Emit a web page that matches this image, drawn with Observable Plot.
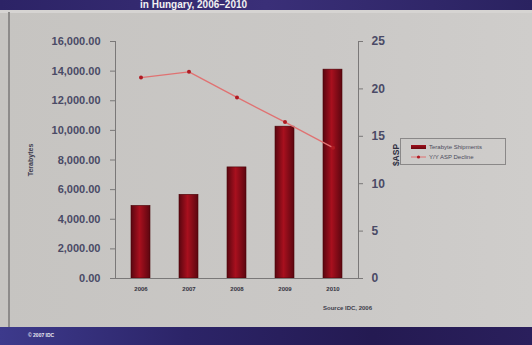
<!DOCTYPE html>
<html>
<head>
<meta charset="utf-8">
<script src="https://cdn.jsdelivr.net/npm/d3@7"></script>
<script src="https://cdn.jsdelivr.net/npm/@observablehq/plot@0.6"></script>
<style>
  html, body { margin: 0; padding: 0; background: #c8c6c3; }
  #slide { position: relative; width: 532px; height: 345px; overflow: hidden;
    background: linear-gradient(90deg, #c6c4c1 0%, #cac8c6 60%, #cfcdcb 100%);
    font-family: "Liberation Sans", Arial, sans-serif; }
  #banner { position: absolute; left: 0; top: 0; width: 532px; height: 10px;
    background: linear-gradient(90deg, #2c2366, #3a2f78 50%, #2a2260); overflow: hidden; }
  #banner span { position: absolute; left: 140px; top: 0px; line-height: 10px; color: #f2f2f2; font-weight: bold; font-size: 10px; white-space: nowrap; }
  #topstrip { position: absolute; left: 0; top: 10px; width: 532px; height: 3px; background: #d6d4d2; }
  #leftline { position: absolute; left: 8px; top: 12px; width: 2px; height: 316px; background: #8d8b8a; }
  #footer { position: absolute; left: 0; top: 327px; width: 532px; height: 18px;
    background: linear-gradient(90deg, #3d3a8c 0%, #2c2468 35%, #241a52 70%, #2a1f5c 100%); }
  #footer span { position: absolute; left: 28px; top: 5px; color: #e8e8f0; font-size: 5px; font-weight: bold; }
  #plot { position: absolute; left: 0; top: 0; }
  .lbl { position: absolute; color: #3e3e50; font-weight: bold; white-space: nowrap; }
  #ylab { left: 30px; top: 160px; font-size: 7px; transform: translate(-50%, -50%) rotate(-90deg); }
  #y2lab { left: 396px; top: 155px; font-size: 8.5px; transform: translate(-50%, -50%) rotate(-90deg); color: #2e2e40; }
  #legend { position: absolute; left: 400px; top: 138px; width: 106px; height: 27px; border: 1px solid #8a8888; box-sizing: border-box; font-size: 6px; color: #4a4a5a; }
  .row { position: absolute; left: 10px; display: flex; align-items: center; }
  .sw { width: 15px; height: 4px; background: linear-gradient(180deg, #a0101c, #6a0810); margin-right: 3px; }
  #source { left: 323px; top: 305px; font-size: 6px; color: #3c3c4a; }
</style>
</head>
<body>
<div id="slide">
  <div id="banner"><span>in Hungary, 2006–2010</span></div>
  <div id="topstrip"></div>
  <div id="leftline"></div>
  <div id="plot"></div>
  <div class="lbl" id="ylab">Terabytes</div>
  <div class="lbl" id="y2lab">$ASP</div>
  <div id="legend">
    <div class="row" style="top:5px"><div class="sw"></div><span>Terabyte Shipments</span></div>
    <div class="row" style="top:15px"><svg width="15" height="6" style="margin-right:3px"><line x1="0" y1="3" x2="15" y2="3" stroke="#e07070" stroke-width="1"/><circle cx="7.5" cy="3" r="1.6" fill="#b01a22"/></svg><span>Y/Y ASP Decline</span></div>
  </div>
  <div class="lbl" id="source">Source IDC, 2006</div>
  <div id="footer"><span>© 2007 IDC</span></div>
</div>
<script>
const years = ["2006", "2007", "2008", "2009", "2010"];
const terabytes = [4900, 5650, 7500, 10250, 14100];
const aspDecline = [21.2, 21.8, 19.1, 16.5, 13.8];
const leftTicks = [0, 2000, 4000, 6000, 8000, 10000, 12000, 14000, 16000];
const rightTicks = [0, 5, 10, 15, 20, 25];

const k = 16000 / 25; // right axis mapped onto left axis range
const data = years.map((y, i) => ({year: y, tb: terabytes[i], asp: aspDecline[i]}));

const chart = Plot.plot({
  width: 532,
  height: 345,
  marginLeft: 115,
  marginRight: 174,
  marginTop: 41,
  marginBottom: 67,
  style: {background: "transparent", overflow: "visible", fontFamily: "Liberation Sans, Arial, sans-serif"},
  x: {domain: years, paddingInner: 0.61, paddingOuter: 0.29, label: null},
  y: {domain: [0, 16000], label: null},
  marks: [
    Plot.barY(data, {x: "year", y: "tb", fill: "url(#barGrad)", stroke: "#4a0408", strokeWidth: 0.6}),
    Plot.frame({anchor: "left", stroke: "#7a7878"}),
    Plot.frame({anchor: "right", stroke: "#7a7878"}),
    Plot.ruleY([0], {stroke: "#7a7878"}),
    Plot.axisY({ticks: leftTicks, tickFormat: d => d3.format(",.2f")(d), tickSize: 5, tickPadding: 10,
      fontSize: 11, fontWeight: "bold", fill: "#4a4a66", stroke: "#7a7878", label: null}),
    Plot.axisY({anchor: "right", ticks: rightTicks.map(v => v * k), tickFormat: d => String(Math.round(d / k)),
      tickSize: 4, tickPadding: 9, fontSize: 12, fontWeight: "bold", fill: "#4a4a66", stroke: "#7a7878", label: null}),
    Plot.axisX({tickSize: 0, tickPadding: 8, fontSize: 6, fontWeight: "bold", fill: "#333340", label: null}),
    Plot.lineY(data, {x: "year", y: d => d.asp * k, stroke: "#e07272", strokeWidth: 1.3}),
    Plot.dot(data, {x: "year", y: d => d.asp * k, r: 2, fill: "#b01a22"})
  ]
});

const svg = d3.select(chart);
const defs = svg.insert("defs", ":first-child");
const g = defs.append("linearGradient").attr("id", "barGrad").attr("x1", "0").attr("x2", "1").attr("y1", "0").attr("y2", "0");
g.append("stop").attr("offset", "0%").attr("stop-color", "#5a0610");
g.append("stop").attr("offset", "45%").attr("stop-color", "#a8101e");
g.append("stop").attr("offset", "100%").attr("stop-color", "#5c0610");

document.getElementById("plot").appendChild(chart);
</script>
</body>
</html>
